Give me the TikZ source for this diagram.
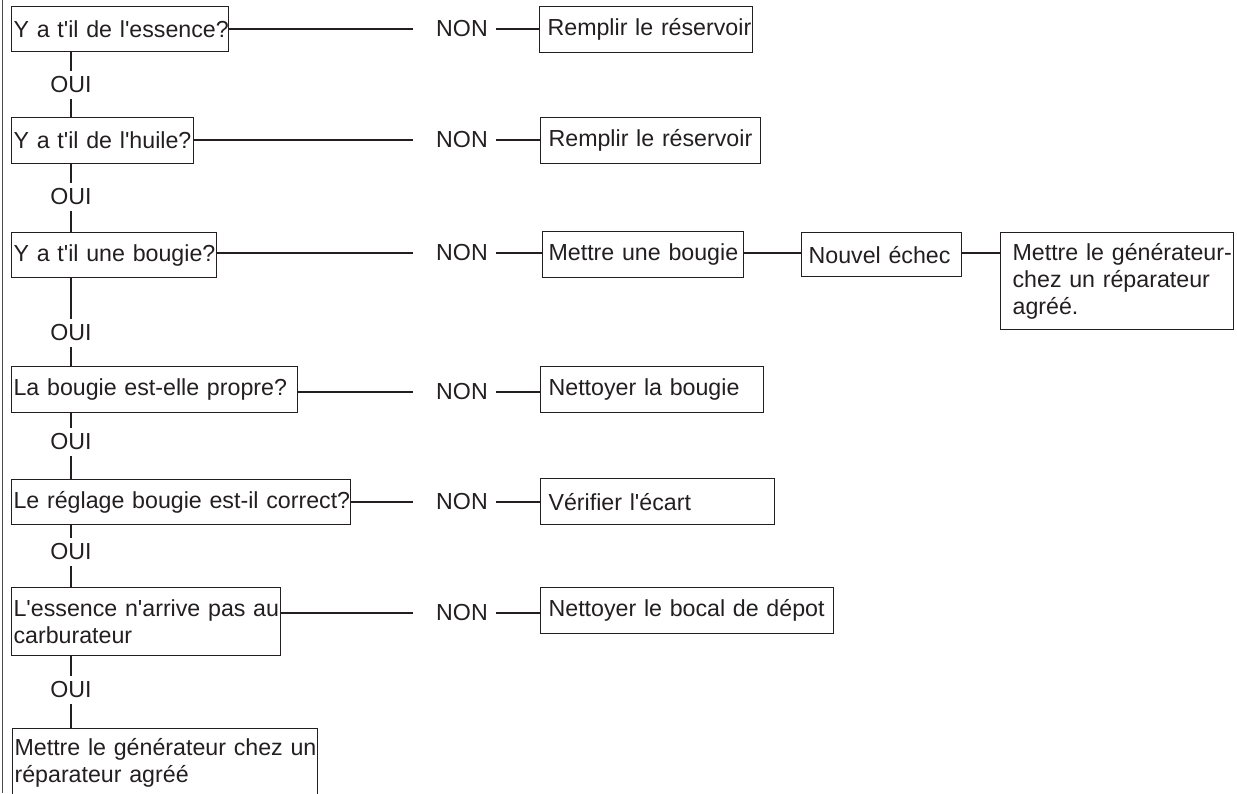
\documentclass[tikz,border=0pt]{standalone}
\usepackage{fontspec}
\setmainfont{Liberation Sans}[Ligatures=TeXOff]
\definecolor{ink}{RGB}{35,31,32}
\tikzset{
  txt/.style={font=\fontsize{23.2}{27}\selectfont, text=ink},
  box/.style={txt, draw=ink, line width=1.2pt, rectangle, anchor=north west, align=left, inner ysep=0pt},
  lbl/.style={txt, inner xsep=0pt, inner ysep=6pt},
  conn/.style={draw=ink, line width=1.1pt},
}
\begin{document}
\begin{tikzpicture}[x=1pt,y=-1pt]
\useasboundingbox (0,0) rectangle (1237,793);
\clip (0,0) rectangle (1237,793);
% left frame line
\draw[line width=1.8pt, draw=black!70] (2.5,0) -- (2.5,793);

% question column
\node[box, minimum width=217pt, minimum height=45pt, text width=213pt, inner xsep=2pt] (q1) at (11,6) {\mbox{Y a t'il de l'essence?}};
\node[box, minimum width=182pt, minimum height=46pt, text width=178pt, inner xsep=2pt] (q2) at (11,117) {\mbox{Y a t'il de l'huile?}};
\node[box, minimum width=205pt, minimum height=45pt, text width=201pt, inner xsep=2pt] (q3) at (11,232) {\mbox{Y a t'il une bougie?}};
\node[box, minimum width=286pt, minimum height=46pt, text width=282pt, inner xsep=2pt] (q4) at (11,366) {\mbox{La bougie est-elle propre?}};
\node[box, minimum width=339pt, minimum height=45pt, text width=335pt, inner xsep=2pt] (q5) at (11,479) {\mbox{Le réglage bougie est-il correct?}};
\node[box, minimum width=269pt, minimum height=68pt, text width=265pt, inner xsep=2pt] (q6) at (11,587) {\mbox{L'essence n'arrive pas au}\\\mbox{carburateur}};
\node[box, minimum width=305pt, minimum height=68pt, text width=301pt, inner xsep=2pt] (q7) at (12,728) {\mbox{Mettre le générateur chez un}\\\mbox{réparateur agréé}};

% action column
\node[box, minimum width=213pt, minimum height=46pt, text width=197pt, inner xsep=8pt] (r1) at (539,6) {\mbox{Remplir le réservoir}};
\node[box, minimum width=220pt, minimum height=46pt, text width=204pt, inner xsep=8pt] (r2) at (540,117) {\mbox{Remplir le réservoir}};
\node[box, minimum width=201pt, minimum height=46pt, text width=189pt, inner xsep=6pt] (r3) at (542,231) {\mbox{Mettre une bougie}};
\node[box, minimum width=160pt, minimum height=44pt, text width=146pt, inner xsep=7pt] (r3b) at (801,232) {\mbox{Nouvel échec}};
\node[box, minimum width=233pt, minimum height=97pt, text width=209pt, inner xsep=12pt] (r3c) at (1000,232) {\mbox{Mettre le générateur-}\\\mbox{chez un réparateur}\\\mbox{agréé.}};
\node[box, minimum width=223pt, minimum height=46pt, text width=207pt, inner xsep=8pt] (r4) at (540,366) {\mbox{Nettoyer la bougie}};
\node[box, minimum width=234pt, minimum height=46pt, text width=218pt, inner xsep=8pt] (r5) at (540,478) {\mbox{Vérifier l'écart}};
\node[box, minimum width=293pt, minimum height=46pt, text width=277pt, inner xsep=8pt] (r6) at (540,587) {\mbox{Nettoyer le bocal de dépot}};

% NON labels
\node[lbl] (n1) at (462,29) {NON};
\node[lbl] (n2) at (462,140) {NON};
\node[lbl] (n3) at (462,253) {NON};
\node[lbl] (n4) at (462,392) {NON};
\node[lbl] (n5) at (462,502) {NON};
\node[lbl] (n6) at (462,613) {NON};

% OUI labels
\node[lbl] (o1) at (71,85) {OUI};
\node[lbl] (o2) at (71,197) {OUI};
\node[lbl] (o3) at (71,333) {OUI};
\node[lbl] (o4) at (71,442) {OUI};
\node[lbl] (o5) at (71,552) {OUI};
\node[lbl] (o6) at (71,690) {OUI};

% NON connectors
\foreach \q/\n/\r in {q1/n1/r1, q2/n2/r2, q3/n3/r3, q4/n4/r4, q5/n5/r5, q6/n6/r6}{
  \draw[conn] (\q.east |- \n) -- ([xshift=-23pt]\n.west);
  \draw[conn] ([xshift=8pt]\n.east) -- (\r.west |- \n);
}
\draw[conn] (r3.east |- n3) -- (r3b.west |- n3);
\draw[conn] (r3b.east |- n3) -- (r3c.west |- n3);

% OUI connectors
\foreach \a/\o/\b in {q1/o1/q2, q2/o2/q3, q3/o3/q4, q4/o4/q5, q5/o5/q6, q6/o6/q7}{
  \draw[conn] (\o |- \a.south) -- (\o.north);
  \draw[conn] (\o.south) -- (\o |- \b.north);
}
\end{tikzpicture}
\end{document}
